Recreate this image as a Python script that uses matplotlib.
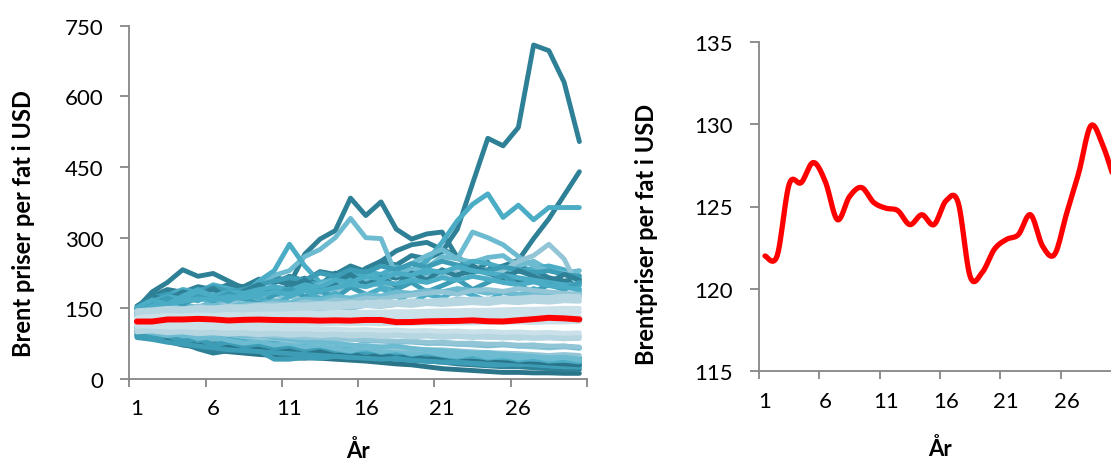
import numpy as np
import matplotlib
matplotlib.use("Agg")
import matplotlib.pyplot as plt

plt.rcParams['font.family'] = ['Lato', 'DejaVu Sans']

years = list(range(1, 31))

# simulerte baner (USD per fat)
path_top = [150, 170, 182, 178, 192, 186, 200, 196, 212, 204, 218, 208, 228, 222, 240,
            228, 250, 242, 262, 255, 270, 318, 415, 511, 495, 534, 709, 697, 630, 504]
path_rise = [140, 158, 165, 160, 172, 168, 180, 176, 190, 185, 195, 190, 205, 200, 212,
             206, 220, 214, 226, 222, 230, 222, 228, 232, 240, 252, 298, 340, 390, 440]
path_mid = [150, 176, 190, 184, 196, 190, 200, 195, 205, 210, 200, 265, 297, 315, 384,
            347, 376, 318, 297, 308, 312, 258, 240, 225, 232, 205, 210, 200, 195, 205]
path_early = [150, 185, 205, 232, 218, 224, 208, 192, 210, 218, 205, 214, 200, 225, 210,
              235, 250, 272, 285, 290, 275, 262, 225, 248, 210, 238, 230, 215, 208, 212]
path_late = [135, 150, 160, 172, 166, 180, 176, 188, 182, 196, 190, 205, 200, 215, 210,
             228, 222, 238, 232, 250, 290, 336, 371, 393, 343, 369, 338, 364, 364, 364]
path_hump = [140, 160, 172, 168, 185, 178, 190, 186, 200, 220, 230, 260, 275, 300, 341,
             300, 298, 220, 232, 236, 260, 255, 248, 258, 262, 240, 250, 232, 225, 230]
path_spike = [145, 165, 178, 190, 184, 200, 192, 180, 208, 230, 286, 240, 205, 212, 226,
              205, 200, 190, 215, 225, 220, 235, 250, 245, 236, 228, 235, 240, 232, 200]
path_l1 = [130, 145, 150, 158, 152, 165, 160, 172, 168, 180, 175, 190, 200, 210, 195,
           215, 205, 230, 245, 262, 275, 255, 312, 300, 285, 260, 240, 230, 225, 220]
path_l2 = [125, 140, 148, 145, 155, 150, 162, 158, 170, 166, 175, 170, 182, 188, 196,
           200, 205, 198, 210, 215, 220, 232, 238, 222, 230, 250, 262, 286, 255, 190]

low_1 = [100, 90, 82, 76, 64, 55, 60, 68, 64, 60, 45, 44, 46, 48, 50,
         48, 45, 42, 40, 38, 36, 32, 30, 28, 26, 26, 24, 22, 20, 20]
low_2 = [95, 88, 80, 72, 68, 62, 58, 55, 52, 50, 48, 46, 44, 42, 40,
         38, 35, 32, 30, 26, 22, 20, 18, 16, 14, 14, 13, 13, 12, 12]
low_3 = [90, 85, 80, 78, 72, 70, 66, 64, 60, 42, 42, 46, 44, 48, 46,
         50, 45, 42, 40, 38, 36, 35, 33, 30, 30, 32, 30, 28, 26, 25]
low_4 = [92, 86, 84, 80, 78, 74, 70, 72, 68, 65, 62, 60, 58, 55, 52,
         50, 52, 48, 46, 44, 42, 40, 38, 40, 36, 34, 36, 32, 30, 32]
low_5 = [88, 84, 78, 74, 70, 66, 62, 60, 58, 56, 54, 52, 50, 48, 46,
         44, 42, 44, 40, 38, 36, 38, 34, 32, 34, 30, 32, 28, 26, 28]

mid_1 = [150, 172, 180, 176, 188, 195, 185, 190, 200, 208, 215, 210, 225, 218, 232,
         226, 240, 232, 245, 238, 250, 242, 236, 230, 238, 232, 225, 230, 222, 218]
mid_2 = [145, 165, 175, 170, 180, 176, 185, 182, 190, 196, 188, 200, 195, 210, 205,
         218, 212, 225, 220, 232, 226, 238, 230, 225, 220, 215, 210, 205, 200, 198]
mid_3 = [140, 155, 160, 165, 170, 168, 175, 172, 178, 185, 180, 190, 186, 194, 200,
         196, 205, 202, 210, 205, 215, 210, 218, 212, 205, 200, 206, 198, 195, 190]
mid_4 = [130, 140, 145, 150, 148, 155, 152, 160, 158, 165, 162, 170, 168, 175, 172,
         180, 176, 185, 182, 188, 185, 192, 188, 182, 186, 180, 184, 178, 175, 180]
mid_5 = [120, 115, 110, 105, 108, 100, 96, 92, 95, 88, 85, 80, 78, 76, 72,
         70, 68, 70, 65, 62, 60, 58, 55, 56, 52, 50, 48, 45, 46, 42]
mid_6 = [110, 105, 100, 98, 95, 90, 92, 86, 82, 80, 76, 74, 70, 68, 65,
         62, 60, 58, 56, 55, 52, 50, 48, 46, 45, 44, 42, 40, 40, 38]
mid_7 = [115, 110, 106, 102, 100, 98, 95, 90, 88, 86, 82, 80, 78, 75, 72,
         70, 68, 66, 64, 62, 62, 60, 58, 56, 55, 54, 52, 50, 52, 50]
mid_8 = [105, 100, 95, 92, 90, 86, 84, 82, 80, 78, 76, 74, 72, 70, 68,
         66, 64, 62, 60, 58, 56, 54, 52, 50, 48, 46, 44, 45, 42, 44]
mid_9 = [100, 98, 92, 88, 86, 85, 80, 78, 76, 74, 72, 70, 66, 64, 62,
         60, 58, 55, 52, 50, 48, 46, 44, 42, 40, 38, 36, 34, 32, 30]
mid_10 = [125, 130, 128, 135, 132, 140, 136, 142, 140, 146, 144, 150, 148, 155, 152,
          158, 156, 162, 160, 165, 162, 170, 168, 166, 172, 170, 175, 172, 178, 175]

up_a = [155, 175, 168, 185, 178, 192, 170, 186, 200, 182, 195, 210, 188, 205, 222,
        200, 215, 198, 225, 210, 232, 218, 240, 225, 212, 230, 218, 205, 222, 210]
up_b = [148, 160, 172, 158, 175, 166, 182, 170, 160, 178, 192, 175, 188, 172, 195,
        180, 168, 190, 205, 185, 198, 212, 190, 205, 220, 198, 185, 200, 190, 205]
up_c = [152, 168, 158, 176, 190, 175, 165, 182, 172, 158, 175, 188, 170, 182, 165,
        178, 192, 176, 160, 180, 172, 190, 178, 165, 185, 175, 192, 180, 170, 185]

lo_a = [95, 88, 92, 80, 85, 72, 78, 70, 74, 66, 70, 62, 68, 60, 64,
        56, 62, 55, 58, 52, 56, 48, 54, 50, 46, 52, 44, 48, 42, 45]
lo_b = [105, 98, 92, 96, 86, 90, 82, 76, 80, 72, 76, 68, 72, 64, 60,
        66, 58, 62, 54, 58, 52, 48, 54, 46, 50, 44, 48, 42, 46, 40]
lo_c = [100, 92, 96, 88, 82, 86, 78, 82, 74, 68, 72, 66, 70, 62, 58,
        64, 56, 60, 52, 56, 50, 46, 50, 44, 48, 40, 44, 38, 40, 36]

light_1 = [135, 142, 140, 148, 145, 152, 150, 155, 158, 160, 156, 164, 160, 168, 165,
           172, 170, 175, 178, 182, 185, 180, 188, 190, 186, 192, 188, 185, 182, 180]
light_2 = [115, 112, 110, 108, 105, 104, 100, 98, 96, 95, 92, 90, 88, 86, 85,
           82, 80, 80, 78, 76, 75, 74, 72, 70, 72, 70, 68, 66, 68, 65]
light_3 = [128, 132, 136, 134, 140, 138, 145, 142, 148, 146, 150, 148, 152, 150, 155,
           158, 156, 160, 158, 162, 165, 168, 165, 170, 168, 172, 170, 168, 172, 170]
light_4 = [110, 108, 104, 102, 100, 98, 97, 95, 94, 92, 90, 88, 88, 86, 84,
           83, 82, 80, 80, 78, 78, 76, 76, 74, 74, 72, 72, 70, 70, 68]
light_5 = [120, 116, 118, 112, 114, 108, 110, 106, 108, 104, 106, 100, 104, 98, 102,
           96, 100, 94, 98, 92, 96, 90, 94, 88, 92, 86, 90, 88, 85, 88]
light_6 = [132, 136, 134, 140, 138, 142, 140, 146, 144, 148, 146, 150, 148, 152, 150,
           156, 154, 158, 160, 162, 160, 164, 166, 164, 168, 170, 168, 172, 170, 174]
light_7 = [108, 104, 106, 100, 102, 96, 98, 92, 94, 90, 92, 86, 88, 84, 86,
           80, 82, 78, 80, 76, 78, 74, 76, 72, 74, 70, 72, 68, 70, 66]

pale_1 = [140, 142, 145, 144, 148, 146, 150, 148, 150, 152, 150, 154, 152, 155, 154,
          156, 155, 158, 156, 160, 158, 160, 162, 160, 164, 162, 165, 163, 166, 165]
pale_2 = [130, 133, 135, 134, 136, 135, 137, 136, 138, 138, 139, 140, 140, 141, 141,
          142, 142, 143, 143, 144, 145, 145, 146, 146, 147, 148, 148, 149, 150, 150]
pale_3 = [105, 106, 104, 105, 103, 104, 102, 103, 101, 102, 100, 101, 100, 99, 99,
          98, 98, 97, 97, 96, 96, 95, 95, 94, 94, 93, 93, 92, 92, 92]
pale_4 = [112, 114, 113, 115, 114, 116, 115, 116, 115, 117, 116, 117, 116, 118, 117,
          118, 117, 118, 118, 119, 118, 119, 119, 120, 120, 121, 120, 121, 121, 122]
pale_5 = [118, 120, 121, 122, 123, 122, 124, 123, 124, 125, 124, 125, 125, 126, 126,
          127, 126, 127, 127, 128, 128, 128, 129, 129, 130, 130, 131, 131, 131, 132]
pale_6 = [100, 102, 98, 100, 96, 98, 95, 97, 94, 96, 93, 95, 92, 94, 91,
          93, 90, 92, 89, 91, 88, 90, 88, 89, 87, 88, 86, 87, 86, 86]
pale_7 = [145, 147, 150, 149, 152, 151, 154, 153, 156, 155, 158, 157, 160, 159, 162,
          161, 164, 163, 166, 165, 168, 167, 170, 169, 172, 171, 174, 173, 176, 175]
pale_8 = [124, 126, 127, 128, 129, 128, 130, 131, 130, 132, 131, 133, 132, 134, 133,
          135, 134, 136, 135, 137, 136, 138, 137, 139, 138, 140, 139, 141, 140, 142]
pale_9 = [114, 112, 110, 111, 109, 110, 108, 109, 107, 108, 106, 107, 105, 106, 104,
          105, 103, 104, 102, 103, 101, 102, 100, 101, 99, 100, 98, 99, 97, 98]

# gjennomsnitt av alle baner
mean_price = [122.0, 122.0, 126.35, 126.45, 127.67, 126.5, 124.2, 125.6, 126.15, 125.25,
              124.9, 124.75, 123.9, 124.5, 123.9, 125.35, 125.25, 120.75, 121.0, 122.4,
              123.0, 123.3, 124.5, 122.6, 122.1, 124.6, 127.05, 129.9, 128.7, 126.5]

DARK = '#2E8096'
DARK2 = '#2A7589'
MED = '#4AACC5'
MED2 = '#3D9DB6'
LMED = '#6DBBD0'
LIGHT = '#92C6D7'
PALE = '#B6D6E2'
PALE2 = '#CBE1E9'

# (bane, farge) i tegnerekkefølge
paths = [
    (low_2, DARK2), (low_1, DARK), (low_3, MED2), (low_4, DARK2), (low_5, MED2),
    (path_top, DARK), (path_rise, DARK), (path_mid, DARK), (path_early, DARK),
    (path_late, MED), (path_hump, LMED), (path_spike, MED),
    (path_l1, LMED), (path_l2, LIGHT),
    (mid_1, MED2), (up_a, DARK), (mid_2, MED), (up_b, MED2), (mid_3, MED), (up_c, MED),
    (mid_4, LMED),
    (mid_9, DARK2), (lo_c, MED), (mid_8, LMED), (lo_a, MED2), (mid_6, MED), (lo_b, LMED),
    (mid_7, LIGHT), (mid_5, LMED),
    (mid_10, LIGHT), (light_1, LIGHT), (light_6, LIGHT), (light_2, LIGHT), (light_7, LMED),
    (light_4, LIGHT), (light_5, PALE), (light_3, PALE),
    (pale_7, PALE), (pale_1, PALE), (pale_6, PALE), (pale_3, PALE), (pale_9, PALE2),
    (pale_2, PALE2), (pale_8, PALE2), (pale_4, PALE2), (pale_5, PALE2),
]


def smooth(xs, ys, n=12):
    # Catmull-Rom-kurve gjennom punktene
    pts = np.column_stack([xs, ys]).astype(float)
    p = np.vstack([pts[0], pts, pts[-1]])
    t = np.linspace(0, 1, n, endpoint=False)[:, None]
    segs = []
    for i in range(1, len(p) - 2):
        p0, p1, p2, p3 = p[i - 1], p[i], p[i + 1], p[i + 2]
        segs.append(0.5 * (2 * p1 + (-p0 + p2) * t
                           + (2 * p0 - 5 * p1 + 4 * p2 - p3) * t ** 2
                           + (-p0 + 3 * p1 - 3 * p2 + p3) * t ** 3))
    segs.append(p[-2][None])
    s = np.vstack(segs)
    return s[:, 0], s[:, 1]


def style_axis(ax):
    gray = '#868686'
    for side in ['top', 'right']:
        ax.spines[side].set_visible(False)
    for side in ['left', 'bottom']:
        ax.spines[side].set_color(gray)
        ax.spines[side].set_linewidth(1.3)
    ax.set_xlim(0.5, 30.5)
    ax.set_xticks(np.arange(0.5, 31, 5))
    ax.set_xticklabels([])
    ax.set_xticks([1, 6, 11, 16, 21, 26], minor=True)
    ax.set_xticklabels(['1', '6', '11', '16', '21', '26'], minor=True)
    ax.tick_params(axis='x', which='major', length=5.5, width=1.3, color=gray, direction='out')
    ax.tick_params(axis='x', which='minor', length=0, pad=14, labelsize=16)
    ax.tick_params(axis='y', length=6.2, width=1.3, color=gray, direction='out',
                   pad=12.5, labelsize=16)


W, H = 1111, 464
fig = plt.figure(figsize=(W / 100, H / 100), dpi=100)

ax1 = fig.add_axes([129.3 / W, (H - 380) / H, (587 - 129.3) / W, (380 - 26.7) / H])
for vals, col in paths:
    ax1.plot(years, vals, color=col, lw=3.5, solid_capstyle='round', solid_joinstyle='round')
ax1.plot(years, mean_price, color='#FF0000', lw=4.3, solid_capstyle='round')
ax1.set_ylim(0, 750)
ax1.set_yticks(range(0, 751, 150))
style_axis(ax1)

ax2 = fig.add_axes([759 / W, (H - 372.3) / H, 362 / W, (372.3 - 42.7) / H])
sx, sy = smooth(years, mean_price)
ax2.plot(sx, sy, color='#FF0000', lw=3.8, solid_capstyle='round', solid_joinstyle='round')
ax2.set_ylim(115, 135)
ax2.set_yticks(range(115, 136, 5))
style_axis(ax2)

fig.text(24 / W, 1 - 224 / H, 'Brent priser per fat i USD', rotation=90,
         ha='center', va='center', fontsize=17, fontweight='bold')
fig.text(646 / W, 1 - 234 / H, 'Brentpriser per fat i USD', rotation=90,
         ha='center', va='center', fontsize=17, fontweight='bold')
fig.text(358 / W, 1 - 451 / H, 'År', ha='center', va='center', fontsize=16, fontweight='bold')
fig.text(940 / W, 1 - 449 / H, 'År', ha='center', va='center', fontsize=16, fontweight='bold')

fig.savefig('out.png', dpi=100)
